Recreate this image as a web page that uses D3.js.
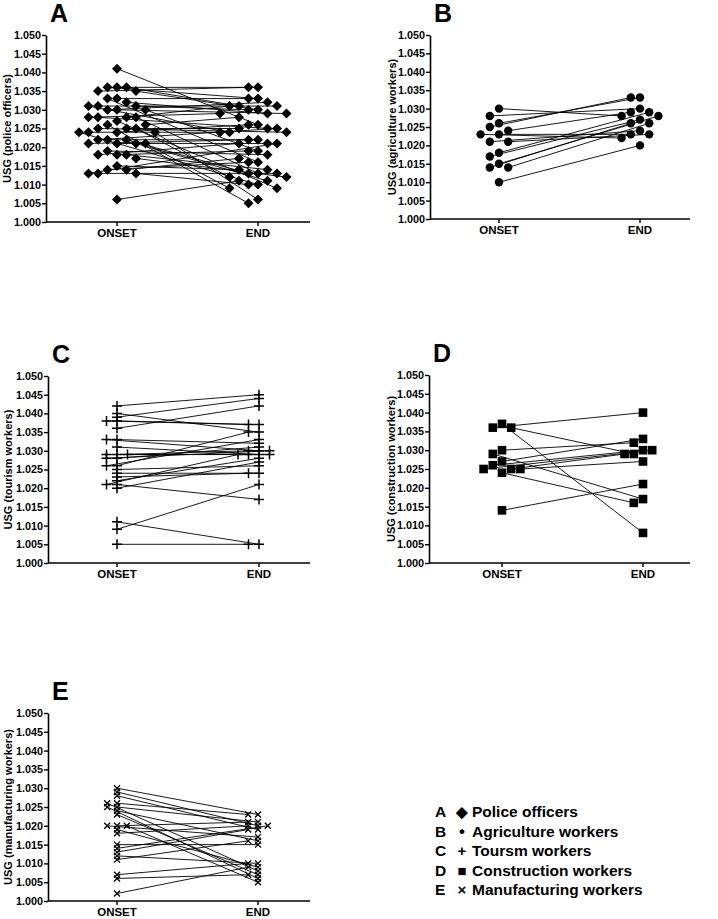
<!DOCTYPE html>
<html><head><meta charset="utf-8">
<script src="https://cdn.jsdelivr.net/npm/d3@7"></script>
<style>
body{margin:0;background:#fff}
text{font-family:"Liberation Sans",Arial,Helvetica,sans-serif;font-weight:bold;fill:#000}
</style>
</head><body>
<svg id="chart" width="718" height="919"></svg>
<script>
// ---------- DATA ----------
const timepoints = ["ONSET", "END"];
const yTicks = [1.000, 1.005, 1.010, 1.015, 1.020, 1.025, 1.030, 1.035, 1.040, 1.045, 1.050];

const policeOnset = [1.041,1.036,1.036,1.036,1.035,1.035,1.033,1.033,1.032,1.031,1.031,1.031,1.030,1.030,1.030,1.028,1.028,1.028,1.028,1.027,1.026,1.026,1.025,1.025,1.025,1.024,1.024,1.024,1.024,1.022,1.022,1.022,1.021,1.021,1.021,1.021,1.019,1.018,1.018,1.018,1.017,1.015,1.014,1.014,1.013,1.013,1.013,1.006];
const policeEnd   = [1.026,1.036,1.033,1.031,1.036,1.030,1.033,1.016,1.029,1.031,1.030,1.024,1.029,1.032,1.019,1.031,1.025,1.013,1.029,1.009,1.005,1.028,1.025,1.024,1.012,1.026,1.024,1.010,1.006,1.022,1.013,1.025,1.021,1.011,1.022,1.009,1.018,1.019,1.014,1.021,1.012,1.014,1.016,1.017,1.013,1.010,1.021,1.011];

const agriOnset = [1.030,1.028,1.026,1.025,1.024,1.023,1.023,1.021,1.021,1.018,1.017,1.015,1.014,1.014,1.010];
const agriEnd   = [1.028,1.030,1.033,1.033,1.029,1.023,1.022,1.024,1.023,1.029,1.027,1.028,1.026,1.026,1.020];

const tourismOnset = [1.042,1.039,1.040,1.038,1.038,1.036,1.033,1.033,1.031,1.029,1.029,1.029,1.028,1.028,1.026,1.026,1.025,1.024,1.023,1.022,1.021,1.021,1.020,1.011,1.009,1.005];
const tourismEnd   = [1.045,1.044,1.035,1.037,1.037,1.042,1.032,1.030,1.029,1.030,1.029,1.029,1.031,1.030,1.035,1.033,1.026,1.024,1.024,1.028,1.017,1.029,1.027,1.005,1.021,1.005];

const constructionOnset = [1.037,1.036,1.036,1.030,1.029,1.027,1.026,1.025,1.025,1.025,1.024,1.014];
const constructionEnd   = [1.008,1.040,1.029,1.032,1.017,1.033,1.030,1.029,1.030,1.027,1.016,1.021];

const manufOnset = [1.030,1.029,1.028,1.026,1.026,1.025,1.025,1.024,1.023,1.020,1.020,1.020,1.019,1.018,1.015,1.014,1.013,1.012,1.011,1.007,1.006,1.002];
const manufEnd   = [1.023,1.020,1.019,1.023,1.008,1.021,1.006,1.016,1.007,1.021,1.017,1.005,1.009,1.020,1.015,1.020,1.019,1.010,1.016,1.010,1.007,1.009];

const panelLetters = ["A","B","C","D","E"];
const yLabels = ["USG (police officers)","USG (agriculture workers)","USG (tourism workers)","USG (construction workers)","USG (manufacturing workers)"];
const legendSymbols = ["\u25C6","\u2022","+","\u25A0","\u00D7"];
const legendLabels = ["Police officers","Agriculture workers","Toursm workers","Construction workers","Manufacturing workers"];

// ---------- LAYOUT ----------
const panels = [
  {onset:policeOnset, end:policeEnd, marker:"diamond", ax:46, top:35, bottom:222, xEnd:310, x0:117, x1:258, step:9.5, minDist:8, ylx:7.5},
  {onset:agriOnset, end:agriEnd, marker:"circle", ax:430, top:35, bottom:219, xEnd:690, x0:499, x1:640, step:9.2, minDist:8, ylx:392},
  {onset:tourismOnset, end:tourismEnd, marker:"plus", ax:48, top:376, bottom:563, xEnd:310, x0:117, x1:259, step:10.5, minDist:3.5, ylx:8.5},
  {onset:constructionOnset, end:constructionEnd, marker:"square", ax:429, top:375, bottom:563, xEnd:690, x0:502, x1:643, step:9.2, minDist:8, ylx:391},
  {onset:manufOnset, end:manufEnd, marker:"cross", ax:48, top:713, bottom:901, xEnd:310, x0:117, x1:258, step:9.8, minDist:3, ylx:8.5}
];

const svg = d3.select("#chart");

function swarm(vals, y, cx, step, minDist){
  const idx = vals.map((v,i)=>i).sort((a,b)=>vals[b]-vals[a] || a-b);
  const placed = [];
  const res = new Array(vals.length);
  idx.forEach(i=>{
    const yy = y(vals[i]);
    for(let k=0;k<60;k++){
      const slot = k===0 ? 0 : (k%2 ? -Math.ceil(k/2) : k/2);
      if(!placed.some(p=>p.slot===slot && Math.abs(p.y-yy)<minDist)){
        placed.push({slot, y:yy}); res[i] = cx + slot*step; break;
      }
    }
  });
  return res;
}

function drawMarker(g, type, x, y){
  if(type==="diamond"){
    g.append("path").attr("d", `M${x},${y-5}L${x+5},${y}L${x},${y+5}L${x-5},${y}Z`).attr("fill","#000");
  } else if(type==="circle"){
    g.append("circle").attr("cx",x).attr("cy",y).attr("r",4.2).attr("fill","#000");
  } else if(type==="square"){
    g.append("rect").attr("x",x-4.3).attr("y",y-4.3).attr("width",8.6).attr("height",8.6).attr("fill","#000");
  } else if(type==="plus"){
    g.append("path").attr("d",`M${x-5},${y}H${x+5}M${x},${y-5}V${y+5}`).attr("stroke","#000").attr("stroke-width",1.5);
  } else if(type==="cross"){
    g.append("path").attr("d",`M${x-3},${y-3}L${x+3},${y+3}M${x+3},${y-3}L${x-3},${y+3}`).attr("stroke","#000").attr("stroke-width",1.3);
  }
}

panels.forEach((p,pi)=>{
  const g = svg.append("g");
  const y = d3.scaleLinear().domain([1.000,1.050]).range([p.bottom,p.top]);
  const x = d3.scalePoint().domain(timepoints).range([p.x0,p.x1]);

  // panel letter
  g.append("text").attr("x", p.ax+4).attr("y", p.top-13).attr("font-size",25).text(panelLetters[pi]);

  // y axis
  const yAxis = d3.axisLeft(y).tickValues(yTicks).tickFormat(d3.format(".3f")).tickSize(4).tickPadding(1).tickSizeOuter(0);
  const ya = g.append("g").attr("transform",`translate(${p.ax},0)`).call(yAxis);
  ya.select(".domain").attr("stroke","#000").attr("stroke-width",1.6);
  ya.selectAll(".tick line").attr("stroke","#000").attr("stroke-width",1.4);
  ya.selectAll(".tick text").attr("font-size",10.8).attr("font-family","Liberation Sans, Arial, sans-serif").attr("font-weight","bold").attr("fill","#000");

  // x axis
  const xa = g.append("g").attr("transform",`translate(0,${p.bottom})`);
  xa.append("line").attr("x1",p.ax).attr("x2",p.xEnd).attr("stroke","#000").attr("stroke-width",1.6);
  timepoints.forEach(t=>{
    xa.append("line").attr("x1",x(t)).attr("x2",x(t)).attr("y1",0).attr("y2",4).attr("stroke","#000").attr("stroke-width",1.4);
    xa.append("text").attr("x",x(t)).attr("y",14.5).attr("text-anchor","middle").attr("font-size",11.5).text(t);
  });

  // y label
  g.append("text").attr("transform",`translate(${p.ylx},${(p.top+p.bottom)/2}) rotate(-90)`)
    .attr("text-anchor","middle").attr("dy","0.35em").attr("font-size",11).text(yLabels[pi]);

  // positions
  const xs0 = swarm(p.onset, y, x("ONSET"), p.step, p.minDist);
  const xs1 = swarm(p.end, y, x("END"), p.step, p.minDist);

  const lg = g.append("g");
  p.onset.forEach((v,i)=>{
    lg.append("line").attr("x1",xs0[i]).attr("y1",y(v)).attr("x2",xs1[i]).attr("y2",y(p.end[i]))
      .attr("stroke","#000").attr("stroke-width",0.9);
  });
  const mg = g.append("g");
  p.onset.forEach((v,i)=>{ drawMarker(mg, p.marker, xs0[i], y(v)); drawMarker(mg, p.marker, xs1[i], y(p.end[i])); });
});

// legend
const leg = svg.append("g");
legendLabels.forEach((lab,i)=>{
  const by = 817 + i*19.5;
  leg.append("text").attr("x",435).attr("y",by).attr("font-size",15.5).text(panelLetters[i]);
  leg.append("text").attr("x",462).attr("y",by).attr("text-anchor","middle").attr("font-size", i===1?17:15).text(legendSymbols[i]);
  leg.append("text").attr("x",472).attr("y",by).attr("font-size",15.5).text(lab);
});
</script>
</body></html>
